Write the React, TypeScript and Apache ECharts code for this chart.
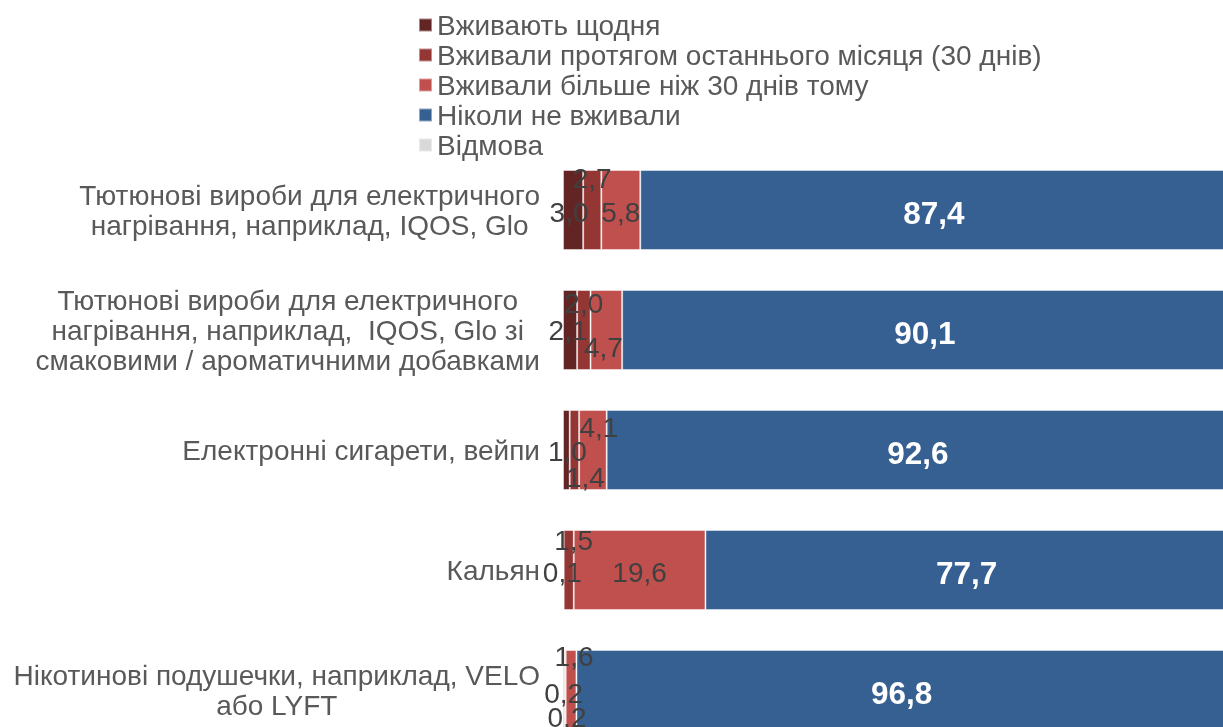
import React, { useEffect, useRef } from "react";
import * as echarts from "echarts";

const categories = [
  "Тютюнові вироби для електричного\nнагрівання, наприклад, IQOS, Glo",
  "Тютюнові вироби для електричного\nнагрівання, наприклад,  IQOS, Glo зі\nсмаковими / ароматичними добавками",
  "Електронні сигарети, вейпи",
  "Кальян",
  "Нікотинові подушечки, наприклад, VELO\nабо LYFT",
];

const seriesNames = [
  "Вживають щодня",
  "Вживали протягом останнього місяця (30 днів)",
  "Вживали більше ніж 30 днів тому",
  "Ніколи не вживали",
  "Відмова",
];

const daily = [3.0, 2.1, 1.0, 0.1, 0.2];
const lastMonth = [2.7, 2.0, 1.4, 1.5, 0.2];
const moreThan30 = [5.8, 4.7, 4.1, 19.6, 1.6];
const never = [87.4, 90.1, 92.6, 77.7, 96.8];
const refusal = [1.1, 1.1, 0.9, 1.1, 1.2];

const colors = ["#632523", "#943634", "#c0504d", "#376092", "#d9d9d9"];

// label offsets (styling) for small segments, per series then per category
const labelOffsets: number[][][] = [
  [[-4, 2], [-2, 0], [1, 1], [-1, 2], [0, 3]],
  [[0, -32], [0, -27], [11, 27], [5, -30], [2, 27]],
  [[0, 2], [-3, 17], [6, -23], [0, 2], [3, -34]],
  [[0, 3], [0, 3], [0, 3], [0, 3], [0, 3]],
  [[0, 0], [0, 0], [0, 0], [0, 0], [0, 0]],
];

const FONT = "'Liberation Sans', Arial, sans-serif";
const fmt = (v: number) => v.toFixed(1).replace(".", ",");

export default function App() {
  const ref = useRef<HTMLDivElement>(null);
  useEffect(() => {
    if (!ref.current) return;
    const chart = echarts.init(ref.current, null, { renderer: "svg" });
    const allData = [daily, lastMonth, moreThan30, never, refusal];
    const series = allData.map((arr, si) => ({
      name: seriesNames[si],
      type: "bar",
      stack: "total",
      barWidth: 80,
      itemStyle: {
        color: colors[si],
        borderColor: "rgba(255,255,255,0.45)",
        borderWidth: 1,
      },
      data: arr.map((v, ci) => ({
        value: v,
        label: { offset: labelOffsets[si][ci] },
      })),
      label: {
        show: si !== 4,
        position: "inside",
        formatter: (p: any) => fmt(p.value),
        fontFamily: FONT,
        fontSize: si === 3 ? 31.5 : 28,
        fontWeight: si === 3 ? "bold" : "normal",
        color: si === 3 ? "#ffffff" : "#404040",
      },
    }));
    chart.setOption({
      animation: false,
      textStyle: { fontFamily: FONT },
      legend: {
        orient: "vertical",
        left: 413,
        top: 5,
        itemWidth: 13,
        itemHeight: 13,
        itemGap: 0,
        icon: "rect",
        data: seriesNames,
        textStyle: {
          fontFamily: FONT,
          fontSize: 28,
          lineHeight: 30,
          color: "#595959",
        },
      },
      grid: { left: 563, top: 150, right: 15, bottom: 20, containLabel: false },
      xAxis: { type: "value", min: 0, max: 100, show: false },
      yAxis: {
        type: "category",
        inverse: true,
        data: categories,
        axisLine: { show: false },
        axisTick: { show: false },
        axisLabel: {
          margin: 23,
          formatter: (v: string) =>
            v
              .split("\n")
              .map((l) => `{c|${l}}`)
              .join("\n"),
          rich: {
            c: {
              align: "center",
              fontFamily: FONT,
              fontSize: 28,
              lineHeight: 30,
              color: "#595959",
            },
          },
        },
      },
      series,
    });
    return () => chart.dispose();
  }, []);
  return (
    <div
      style={{
        position: "fixed",
        left: 0,
        top: 0,
        width: 1223,
        height: 727,
        overflow: "hidden",
      }}
    >
      <div ref={ref} style={{ width: 1250, height: 770 }} />
    </div>
  );
}
